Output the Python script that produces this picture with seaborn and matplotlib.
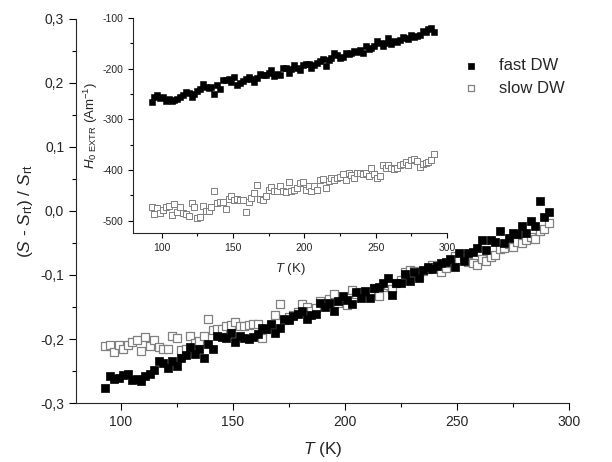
import matplotlib
matplotlib.use('Agg')
import matplotlib.pyplot as plt
import matplotlib.ticker as mticker
import seaborn as sns
import pandas as pd

# temperatura (K)
temperatura = [
    93, 95, 97, 99, 101, 103, 105, 107, 109, 111,
    113, 115, 117, 119, 121, 123, 125, 127, 129, 131,
    133, 135, 137, 139, 141, 143, 145, 147, 149, 151,
    153, 155, 157, 159, 161, 163, 165, 167, 169, 171,
    173, 175, 177, 179, 181, 183, 185, 187, 189, 191,
    193, 195, 197, 199, 201, 203, 205, 207, 209, 211,
    213, 215, 217, 219, 221, 223, 225, 227, 229, 231,
    233, 235, 237, 239, 241, 243, 245, 247, 249, 251,
    253, 255, 257, 259, 261, 263, 265, 267, 269, 271,
    273, 275, 277, 279, 281, 283, 285, 287, 289, 291,
]

# (S - S_rt) / S_rt
s_fast = [
    -0.276, -0.258, -0.263, -0.261, -0.257, -0.255, -0.264, -0.263, -0.265, -0.258,
    -0.254, -0.248, -0.235, -0.237, -0.246, -0.235, -0.242, -0.229, -0.225, -0.212,
    -0.223, -0.216, -0.229, -0.208, -0.216, -0.196, -0.197, -0.199, -0.190, -0.204,
    -0.195, -0.198, -0.200, -0.197, -0.192, -0.183, -0.185, -0.177, -0.191, -0.183,
    -0.168, -0.170, -0.164, -0.161, -0.156, -0.168, -0.163, -0.161, -0.144, -0.150,
    -0.143, -0.156, -0.140, -0.133, -0.139, -0.145, -0.126, -0.136, -0.125, -0.136,
    -0.121, -0.118, -0.113, -0.105, -0.131, -0.113, -0.113, -0.098, -0.110, -0.096,
    -0.105, -0.092, -0.087, -0.090, -0.086, -0.082, -0.080, -0.075, -0.087, -0.065,
    -0.078, -0.065, -0.064, -0.058, -0.045, -0.061, -0.046, -0.048, -0.031, -0.050,
    -0.042, -0.034, -0.036, -0.024, -0.034, -0.015, -0.023, 0.016, -0.010, -0.002,
]
s_slow = [
    -0.211, -0.209, -0.220, -0.209, -0.216, -0.209, -0.204, -0.202, -0.218, -0.197,
    -0.211, -0.202, -0.212, -0.215, -0.216, -0.195, -0.198, -0.217, -0.215, -0.195,
    -0.206, -0.203, -0.196, -0.168, -0.186, -0.184, -0.185, -0.180, -0.178, -0.173,
    -0.180, -0.180, -0.178, -0.177, -0.177, -0.199, -0.185, -0.178, -0.163, -0.145,
    -0.170, -0.166, -0.163, -0.158, -0.145, -0.150, -0.156, -0.152, -0.140, -0.145,
    -0.137, -0.129, -0.144, -0.139, -0.147, -0.124, -0.130, -0.126, -0.126, -0.126,
    -0.120, -0.133, -0.118, -0.115, -0.122, -0.112, -0.108, -0.096, -0.092, -0.093,
    -0.101, -0.094, -0.091, -0.084, -0.086, -0.096, -0.089, -0.081, -0.071, -0.075,
    -0.070, -0.079, -0.081, -0.084, -0.075, -0.078, -0.072, -0.068, -0.060, -0.058,
    -0.052, -0.056, -0.048, -0.050, -0.046, -0.040, -0.044, -0.032, -0.028, -0.018,
]

# H0 EXTR (A/m) - grafico inserido
h_fast = [
    -266, -255, -252, -258, -256, -263, -260, -264, -262, -259,
    -255, -251, -245, -247, -255, -250, -244, -241, -230, -236,
    -239, -236, -249, -232, -240, -222, -223, -220, -227, -216,
    -232, -228, -224, -220, -216, -221, -226, -218, -210, -212,
    -212, -208, -203, -214, -210, -212, -199, -199, -208, -200,
    -192, -199, -202, -193, -190, -190, -199, -193, -188, -185,
    -181, -195, -183, -178, -170, -174, -179, -176, -169, -172,
    -170, -166, -168, -164, -169, -156, -162, -159, -155, -146,
    -150, -155, -149, -139, -151, -145, -148, -143, -137, -140,
    -141, -133, -137, -135, -133, -126, -127, -122, -119, -128,
]
h_slow = [
    -472, -487, -475, -484, -479, -472, -471, -489, -466, -482,
    -472, -485, -487, -491, -465, -473, -495, -493, -470, -480,
    -480, -473, -442, -464, -462, -462, -477, -457, -452, -459,
    -457, -459, -459, -482, -462, -455, -445, -429, -457, -459,
    -451, -440, -434, -442, -442, -431, -442, -444, -424, -442,
    -439, -436, -426, -424, -439, -432, -441, -432, -439, -419,
    -417, -436, -422, -416, -419, -416, -413, -407, -419, -406,
    -409, -416, -406, -405, -407, -405, -411, -396, -408, -416,
    -411, -389, -396, -389, -396, -397, -396, -389, -388, -385,
    -390, -381, -378, -383, -393, -388, -386, -384, -380, -368,
]

df = pd.DataFrame({'T': temperatura, 'fast': s_fast, 'slow': s_slow,
                   'h_fast': h_fast, 'h_slow': h_slow})

sns.set_style('ticks')
plt.rcParams['font.family'] = ['Liberation Sans', 'DejaVu Sans']
plt.rcParams['mathtext.fontset'] = 'custom'
plt.rcParams['mathtext.rm'] = 'Liberation Sans'
plt.rcParams['mathtext.it'] = 'Liberation Sans:italic'
plt.rcParams['axes.linewidth'] = 0.8
plt.rcParams['axes.unicode_minus'] = False


def virgula(v, pos):
    return f'{v:.1f}'.replace('.', ',')


def estilo(ax, size, major, minor):
    ax.spines['top'].set_visible(False)
    ax.spines['right'].set_visible(False)
    ax.tick_params(which='major', direction='out', length=major, width=0.8,
                   labelsize=size, color='black')
    ax.tick_params(which='minor', direction='out', length=minor, width=0.8,
                   color='black')


fig = plt.figure(figsize=(6.12, 4.62), dpi=100)

# grafico principal
ax = fig.add_axes([0.1242, 0.1277, 0.8056, 0.8312])
sns.scatterplot(data=df, x='T', y='slow', marker='s', s=32, color='white',
                edgecolor='#808080', linewidth=0.9, label='slow DW', ax=ax)
sns.scatterplot(data=df, x='T', y='fast', marker='s', s=32, color='black',
                edgecolor='black', linewidth=0.5, label='fast DW', ax=ax)
ax.set_xlim(80, 300)
ax.set_ylim(-0.3, 0.3)
ax.xaxis.set_major_locator(mticker.MultipleLocator(50))
ax.xaxis.set_minor_locator(mticker.MultipleLocator(25))
ax.yaxis.set_major_locator(mticker.MultipleLocator(0.1))
ax.yaxis.set_minor_locator(mticker.MultipleLocator(0.05))
ax.yaxis.set_major_formatter(mticker.FuncFormatter(virgula))
estilo(ax, 10, 5, 3)
ax.set_xlabel('$T$ (K)', fontsize=12.5, labelpad=8)
ax.set_ylabel(r'($S$ - $S_{\mathrm{rt}}$) / $S_{\mathrm{rt}}$', fontsize=12.5)

handles, labels = ax.get_legend_handles_labels()
ax.legend(handles[::-1], labels[::-1], loc='center left',
          bbox_to_anchor=(454 / 612, 1 - 77 / 462), bbox_transform=fig.transFigure,
          frameon=False, fontsize=12, handlelength=1.0, handletextpad=1.2,
          labelspacing=0.45, borderpad=0, markerscale=0.8)

# grafico inserido
axi = fig.add_axes([0.2173, 0.4957, 0.5131, 0.4654])
sns.scatterplot(data=df, x='T', y='h_slow', marker='s', s=18, color='white',
                edgecolor='#808080', linewidth=0.7, ax=axi)
sns.scatterplot(data=df, x='T', y='h_fast', marker='s', s=18, color='black',
                edgecolor='black', linewidth=0.4, ax=axi)
axi.set_xlim(80, 300)
axi.set_ylim(-524, -100)
axi.xaxis.set_major_locator(mticker.MultipleLocator(50))
axi.xaxis.set_minor_locator(mticker.MultipleLocator(25))
axi.yaxis.set_major_locator(mticker.MultipleLocator(100))
axi.yaxis.set_minor_locator(mticker.MultipleLocator(50))
estilo(axi, 7.5, 3.5, 2)
axi.set_xlabel('$T$ (K)', fontsize=9.5, labelpad=6)
axi.set_ylabel(r'$H_{\mathrm{0\ EXTR}}$ (Am$^{\mathrm{-1}}$)', fontsize=9.5, labelpad=2)

fig.savefig('out.png', dpi=100)
